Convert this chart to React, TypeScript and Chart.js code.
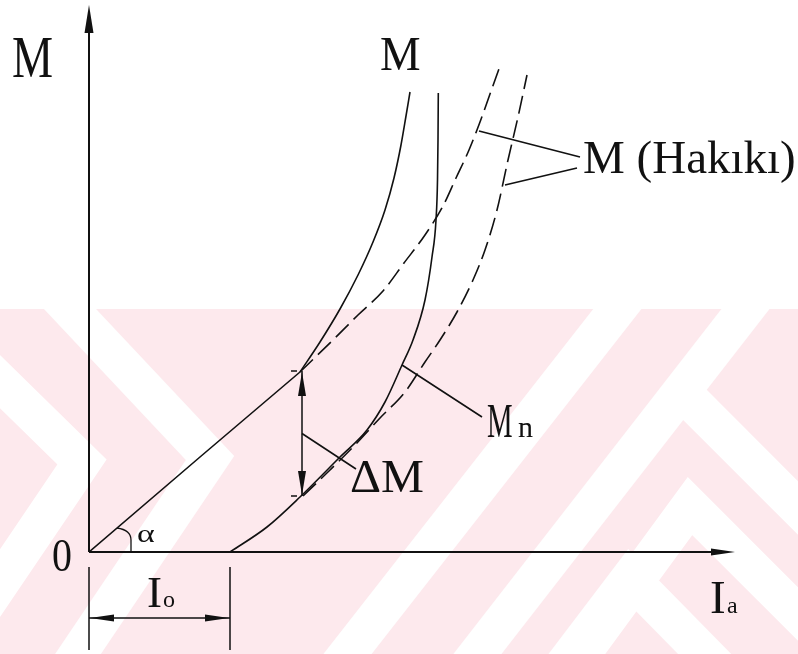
import { useEffect, useRef } from "react";
import { Chart, registerables } from "chart.js";

Chart.register(...registerables);

// Axis ranges (armature current Ia, torque M) in diagram units
const X_MAX = 6.46;
const Y_MAX = 5.47;

// No-load current Io where the net torque curve starts
const I0 = 1.41;

// Ideal torque, linear part M = k·Ia (angle α)
const idealI = [0, 1.11, 2.11];
const idealM = [0, 0.95, 1.8];

// Ideal torque beyond the linear part
const curveI = [2.11, 2.31, 2.51, 2.69, 2.84, 2.96, 3.05, 3.12, 3.17, 3.21];
const curveM = [1.8, 2.1, 2.43, 2.77, 3.1, 3.42, 3.74, 4.07, 4.36, 4.6];

// Real torque "M (Hakıkı)", upper dashed curve
const realI = [2.11, 2.46, 2.69, 2.94, 3.15, 3.36, 3.54, 3.67, 3.8, 3.91, 4.01, 4.11];
const realM = [1.8, 2.14, 2.37, 2.61, 2.89, 3.17, 3.46, 3.74, 4.02, 4.3, 4.58, 4.86];

// Net torque Mn (solid), starting at Io
const netI = [I0, 1.78, 2.11, 2.51, 2.78, 2.96, 3.13, 3.24, 3.36, 3.43, 3.47, 3.485, 3.49, 3.493];
const netM = [0, 0.25, 0.55, 0.95, 1.22, 1.5, 1.87, 2.12, 2.52, 2.95, 3.32, 3.72, 4.12, 4.59];

// Real net torque, lower dashed curve
const realNetI = [2.14, 2.41, 2.66, 2.91, 3.16, 3.36, 3.51, 3.68, 3.84, 3.96, 4.08, 4.19, 4.29, 4.38];
const realNetM = [0.56, 0.82, 1.07, 1.34, 1.6, 1.9, 2.12, 2.4, 2.72, 3.02, 3.42, 3.92, 4.35, 4.77];

// Torque loss ΔM marked at one current
const deltaI = 2.13;
const deltaTop = 1.81;
const deltaBottom = 0.56;

const FONT = '"Liberation Serif", "Times New Roman", serif';
const INK = "#111111";
const PINK = "#fde9ed";

const pts = (xs: number[], ys: number[]) => xs.map((x, i) => ({ x, y: ys[i] }));

function arrowHead(ctx: CanvasRenderingContext2D, tx: number, ty: number, dx: number, dy: number, len: number, half: number) {
  const n = Math.hypot(dx, dy);
  const ux = dx / n;
  const uy = dy / n;
  const bx = tx - ux * len;
  const by = ty - uy * len;
  ctx.beginPath();
  ctx.moveTo(tx, ty);
  ctx.lineTo(bx - uy * half, by + ux * half);
  ctx.lineTo(bx + uy * half, by - ux * half);
  ctx.closePath();
  ctx.fill();
}

function text(ctx: CanvasRenderingContext2D, s: string, x: number, y: number, size: number, sx = 1) {
  ctx.save();
  ctx.font = `${size}px ${FONT}`;
  ctx.textBaseline = "alphabetic";
  ctx.textAlign = "left";
  ctx.translate(x, y);
  ctx.scale(sx, 1);
  ctx.fillText(s, 0, 0);
  ctx.restore();
}

const diagramPlugin = {
  id: "diagram",
  beforeDraw(chart: any) {
    const { ctx, width, height } = chart;
    ctx.save();
    ctx.fillStyle = "#ffffff";
    ctx.fillRect(0, 0, width, height);
    // faint background pattern in the lower part of the page
    const top = 309;
    ctx.beginPath();
    ctx.rect(0, top, width, height - top);
    ctx.clip();
    ctx.fillStyle = PINK;
    ctx.fillRect(0, top, width, height - top);
    ctx.strokeStyle = "#ffffff";
    ctx.lineWidth = 38;
    ctx.lineJoin = "miter";
    ctx.lineCap = "square";
    const bands: number[][] = [
      [-74, 309, 82, 462, -48, 654],
      [70, 309, 210, 458, 78, 654],
      [640, 280, 335, 670],
      [768, 280, 465, 670],
      [690, 400, 840, 550],
      [570, 670, 690, 506, 860, 676],
      [545, 690, 630, 578, 740, 690],
    ];
    for (const b of bands) {
      ctx.beginPath();
      ctx.moveTo(b[0], b[1]);
      for (let i = 2; i < b.length; i += 2) ctx.lineTo(b[i], b[i + 1]);
      ctx.stroke();
    }
    ctx.restore();
  },
  afterDraw(chart: any) {
    const { ctx } = chart;
    const xs = chart.scales.x;
    const ys = chart.scales.y;
    const px = (v: number) => xs.getPixelForValue(v);
    const py = (v: number) => ys.getPixelForValue(v);
    const ox = px(0);
    const oy = py(0);

    ctx.save();
    ctx.strokeStyle = INK;
    ctx.fillStyle = INK;
    ctx.lineCap = "butt";

    // axes
    ctx.lineWidth = 2;
    ctx.beginPath();
    ctx.moveTo(ox, oy);
    ctx.lineTo(ox, py(Y_MAX) + 10);
    ctx.moveTo(ox, oy);
    ctx.lineTo(px(X_MAX) - 10, oy);
    ctx.stroke();
    arrowHead(ctx, ox, py(Y_MAX), 0, -1, 28, 4.5);
    arrowHead(ctx, px(X_MAX), oy, 1, 0, 24, 3.5);

    // angle α between the ideal line and the current axis
    ctx.lineWidth = 1.3;
    ctx.beginPath();
    ctx.moveTo(px(0.28), py(0.24));
    ctx.quadraticCurveTo(px(0.42), py(0.22), px(0.42), py(0.12));
    ctx.lineTo(px(0.42), oy);
    ctx.stroke();

    // Io dimension
    const dimY = py(-0.66);
    ctx.lineWidth = 1.5;
    ctx.beginPath();
    ctx.moveTo(ox, py(-0.15));
    ctx.lineTo(ox, py(-0.98));
    ctx.moveTo(px(I0), py(-0.15));
    ctx.lineTo(px(I0), py(-0.98));
    ctx.moveTo(ox, dimY);
    ctx.lineTo(px(I0), dimY);
    ctx.stroke();
    arrowHead(ctx, ox + 1, dimY, -1, 0, 24, 3.5);
    arrowHead(ctx, px(I0) - 1, dimY, 1, 0, 24, 3.5);

    // ΔM double arrow
    const dx = px(deltaI);
    ctx.lineWidth = 1.5;
    ctx.beginPath();
    ctx.moveTo(dx, py(deltaTop));
    ctx.lineTo(dx, py(deltaBottom));
    ctx.moveTo(dx - 11, py(deltaTop));
    ctx.lineTo(dx - 5, py(deltaTop));
    ctx.moveTo(dx - 11, py(deltaBottom));
    ctx.lineTo(dx - 5, py(deltaBottom));
    ctx.stroke();
    arrowHead(ctx, dx, py(deltaTop) + 1, 0, -1, 24, 4);
    arrowHead(ctx, dx, py(deltaBottom) - 1, 0, 1, 24, 4);

    // leader lines
    ctx.lineWidth = 1.6;
    const leaders = [
      [3.9, 4.21, 4.91, 3.95],
      [4.16, 3.67, 4.88, 3.84],
      [3.13, 1.87, 3.93, 1.35],
      [deltaI, (deltaTop + deltaBottom) / 2, 2.67, 0.83],
    ];
    ctx.beginPath();
    for (const l of leaders) {
      ctx.moveTo(px(l[0]), py(l[1]));
      ctx.lineTo(px(l[2]), py(l[3]));
    }
    ctx.stroke();

    // labels
    text(ctx, "M", px(-0.77), py(4.75), 60, 0.77);
    text(ctx, "M", px(2.91), py(4.82), 48, 0.95);
    text(ctx, "M (Hakıkı)", px(4.94), py(3.79), 47, 1);
    text(ctx, "M", px(3.98), py(1.15), 48, 0.6);
    text(ctx, "n", px(4.29), py(1.15), 30, 1);
    text(ctx, "ΔM", px(2.61), py(0.6), 46, 1.05);
    text(ctx, "0", px(-0.37), py(-0.19), 47, 0.85);
    text(ctx, "α", px(0.48), py(0.1), 26, 1.3);
    text(ctx, "I", px(0.58), py(-0.55), 45, 1);
    text(ctx, "o", px(0.74), py(-0.55), 24, 1);
    text(ctx, "I", px(6.21), py(-0.61), 47, 1);
    text(ctx, "a", px(6.38), py(-0.61), 24, 1);

    ctx.restore();
  },
};

export default function App() {
  const canvasRef = useRef<HTMLCanvasElement | null>(null);

  useEffect(() => {
    const canvas = canvasRef.current;
    if (!canvas) return;
    const solid = { borderColor: INK, borderWidth: 1.6, pointRadius: 0, fill: false, showLine: true };
    const dashed = { ...solid, borderDash: [18, 7] };
    const chart = new Chart(canvas, {
      type: "scatter",
      data: {
        datasets: [
          { label: "M = k·Ia", data: pts(idealI, idealM), ...solid, tension: 0 },
          { label: "M", data: pts(curveI, curveM), ...solid, cubicInterpolationMode: "monotone" },
          { label: "M (Hakıkı)", data: pts(realI, realM), ...dashed, cubicInterpolationMode: "monotone" },
          { label: "Mn", data: pts(netI, netM), ...solid, cubicInterpolationMode: "monotone" },
          { label: "Mn (Hakıkı)", data: pts(realNetI, realNetM), ...dashed, cubicInterpolationMode: "monotone" },
        ] as any,
      },
      options: {
        responsive: false,
        animation: false,
        devicePixelRatio: 1,
        layout: { padding: { left: 89, right: 63, top: 5, bottom: 102 } },
        scales: {
          x: { type: "linear", min: 0, max: X_MAX, display: false },
          y: { type: "linear", min: 0, max: Y_MAX, display: false },
        },
        plugins: { legend: { display: false }, tooltip: { enabled: false } },
      },
      plugins: [diagramPlugin],
    });
    return () => chart.destroy();
  }, []);

  return (
    <div style={{ position: "absolute", left: 0, top: 0, width: 798, height: 654 }}>
      <canvas ref={canvasRef} width={798} height={654} />
    </div>
  );
}
